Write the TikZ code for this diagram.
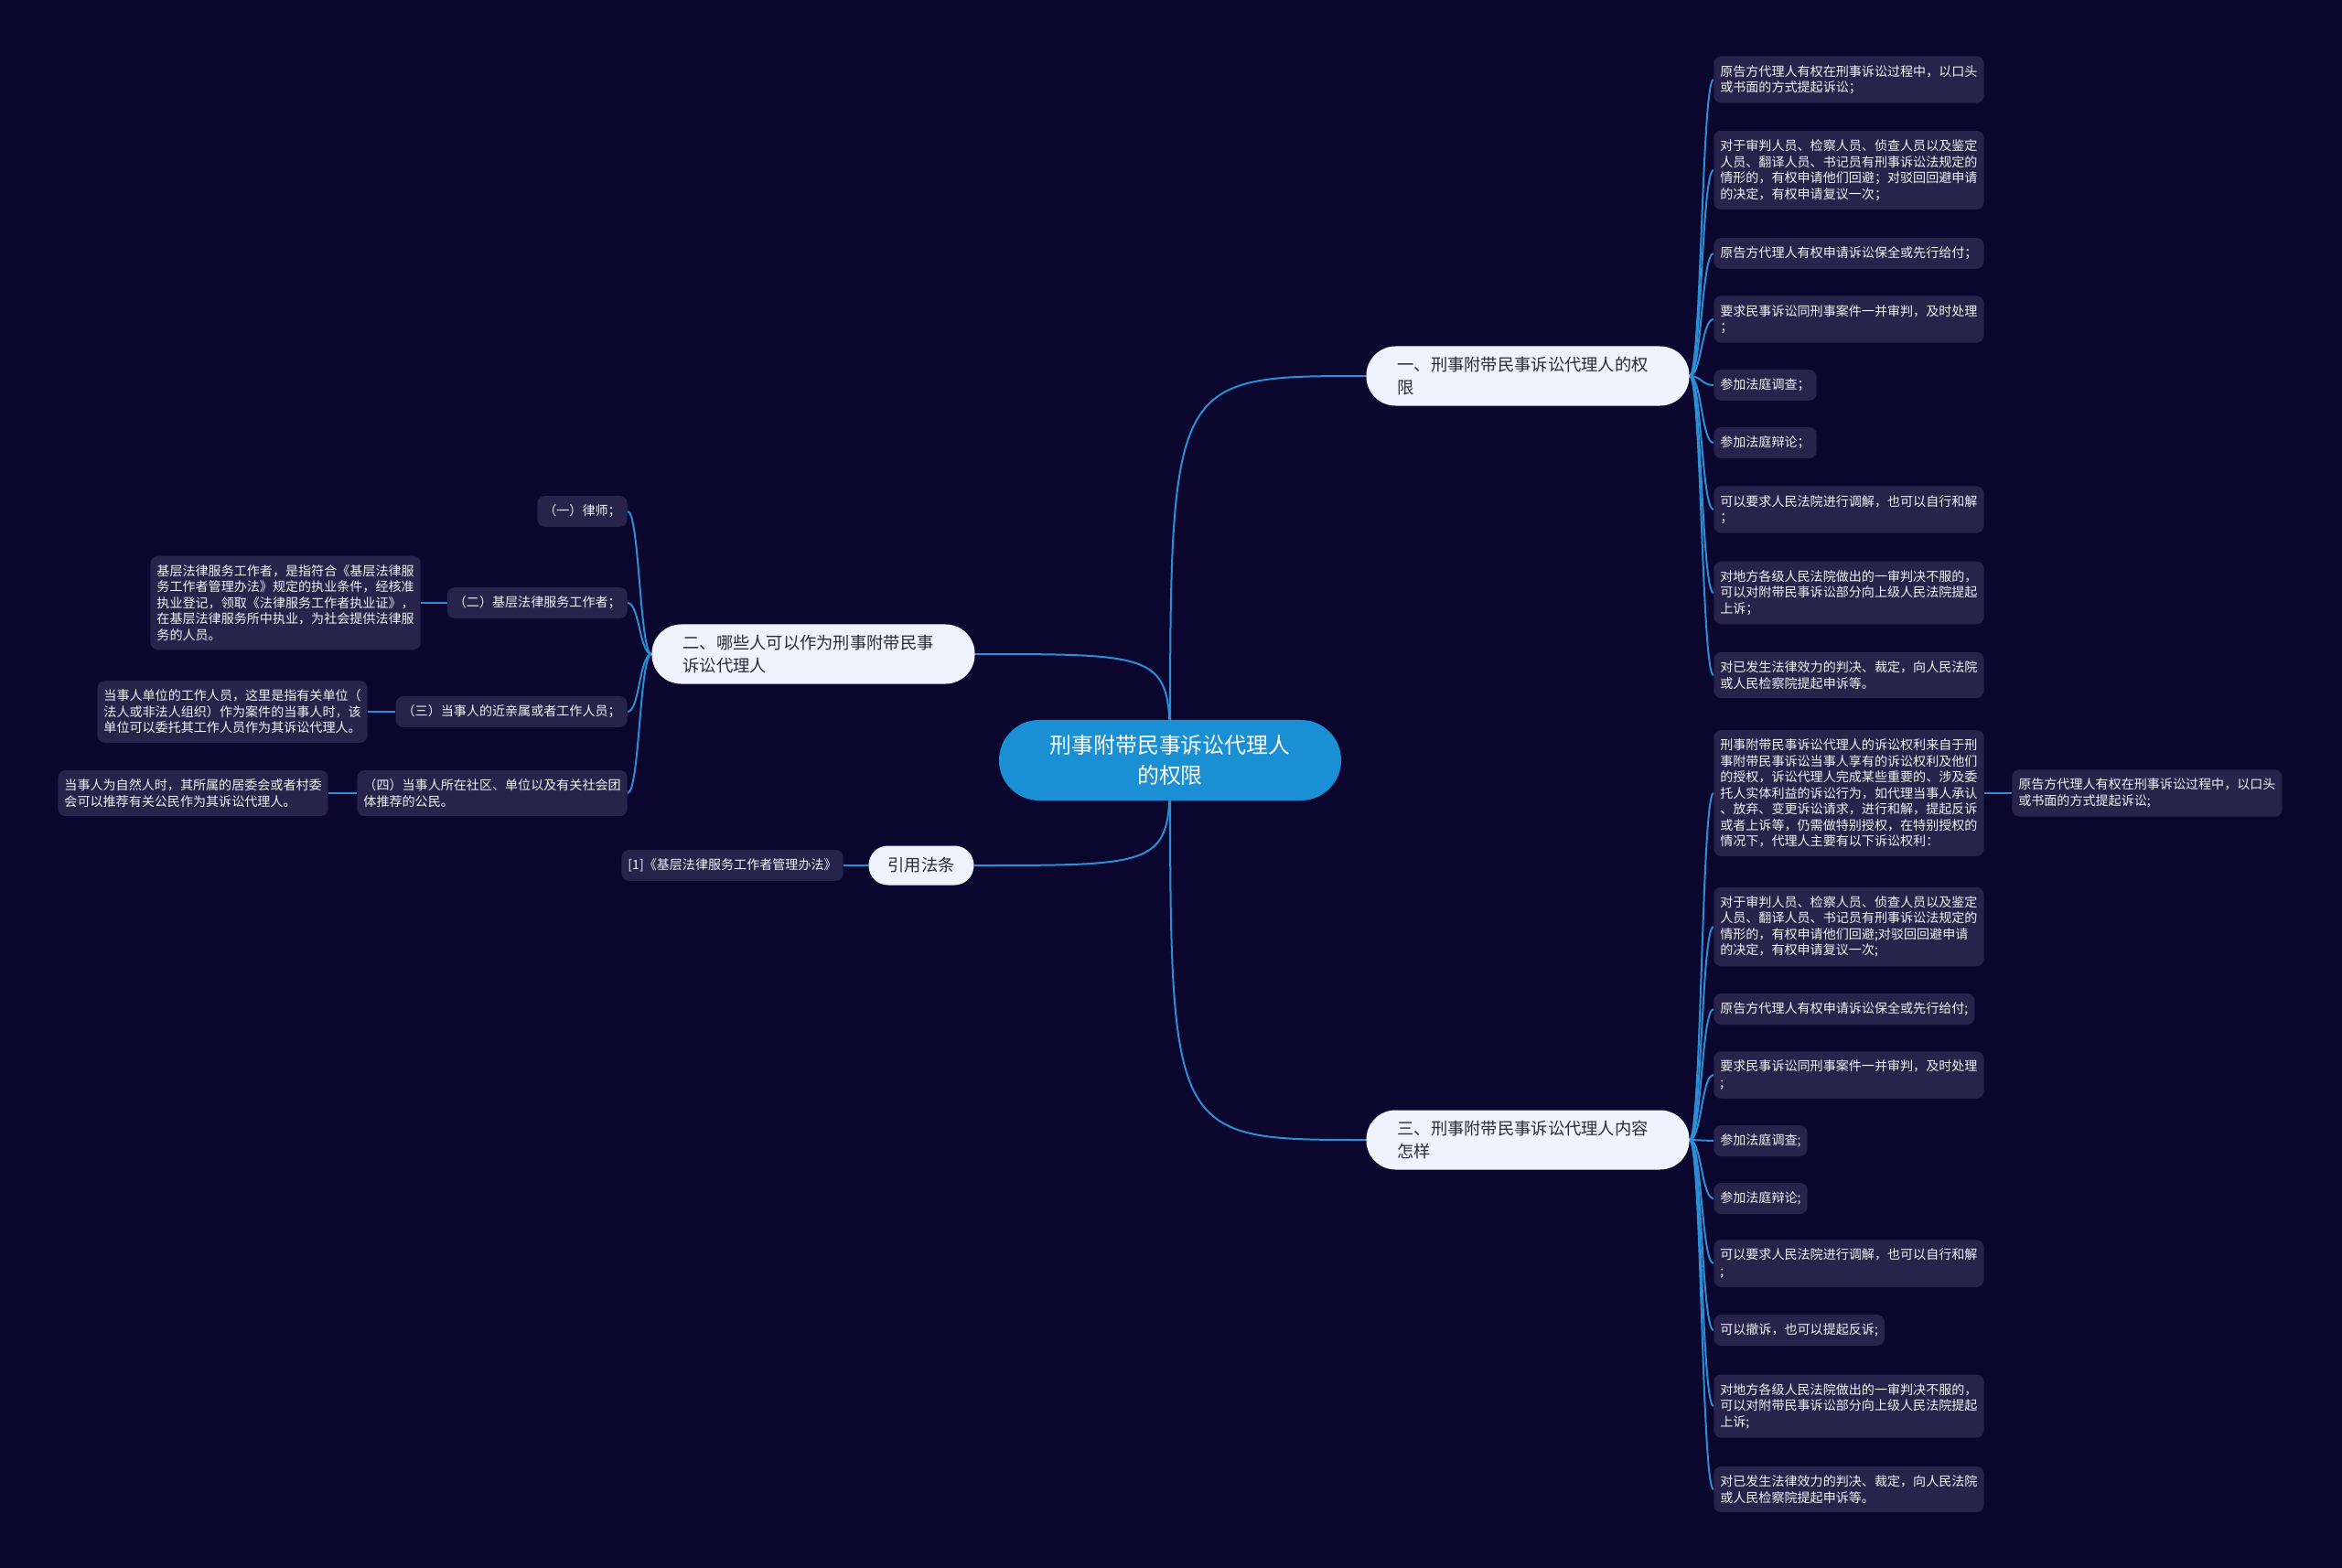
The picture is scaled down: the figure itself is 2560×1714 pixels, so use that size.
\documentclass[tikz,border=0pt]{standalone}
\usepackage{fontspec}
\setmainfont{Noto Sans CJK SC}
\usepackage{xcolor}
\definecolor{bgnavy}{HTML}{0B062E}
\definecolor{rootblue}{HTML}{1A8FD4}
\definecolor{topicfill}{HTML}{EEF3FD}
\definecolor{topictext}{HTML}{2B2B3A}
\definecolor{leaffill}{HTML}{27234A}
\definecolor{leaftext}{HTML}{F2F2F2}
\definecolor{linkblue}{HTML}{2C8FD6}
\usepackage{tikz}
\usetikzlibrary{calc, backgrounds}

\begin{document}
\begin{tikzpicture}[
    x=0.025cm, y=-0.025cm,
    root/.style={fill=rootblue, text=white, rounded corners=1.1cm, minimum width=9.35cm, minimum height=2.2cm, align=center, font=\fontsize{17}{24}\selectfont},
    pill/.style={fill=topicfill, text=topictext, font=\fontsize{13}{17.8}\selectfont},
    topic/.style={pill, rounded corners=0.8cm, minimum height=1.625cm, inner xsep=0.85cm, text width=7.125cm, align=left},
    cite/.style={pill, rounded corners=0.53cm, minimum width=2.875cm, minimum height=1.075cm},
    leaf/.style={fill=leaffill, text=leaftext, rounded corners=0.2cm, inner xsep=0.175cm, inner ysep=6.9pt, align=left, font=\fontsize{10}{12.45}\selectfont},
    wire/.style={draw=linkblue, line width=0.05cm},
    link/.style={to path={.. controls ($(\tikztostart)!0.5!(\tikztotarget |- \tikztostart)$) and ($(\tikztostart |- \tikztotarget)!0.5!(\tikztotarget)$) .. (\tikztotarget)}},
    trunk/.style={to path={.. controls (\tikztostart |- \tikztotarget) .. (\tikztotarget)}},
]
% centre and main topics
\node[root] (root) at (1279,831) {刑事附带民事诉讼代理人\\的权限};
\node[topic] (qx) at (1670,411) {一、刑事附带民事诉讼代理人的权\\限};
\node[topic] (nr) at (1670,1246) {三、刑事附带民事诉讼代理人内容\\怎样};
\node[topic] (dl) at (889,715) {二、哪些人可以作为刑事附带民事\\诉讼代理人};
\node[cite] (yy) at (1007,946) {引用法条};

% 一、权限
\node[leaf, anchor=west] (qx1) at (1873,87) {原告方代理人有权在刑事诉讼过程中，以口头\\或书面的方式提起诉讼；};
\node[leaf, anchor=west] (qx2) at (1873,186) {对于审判人员、检察人员、侦查人员以及鉴定\\人员、翻译人员、书记员有刑事诉讼法规定的\\情形的，有权申请他们回避；对驳回回避申请\\的决定，有权申请复议一次；};
\node[leaf, anchor=west] (qx3) at (1873,277) {原告方代理人有权申请诉讼保全或先行给付；};
\node[leaf, anchor=west] (qx4) at (1873,349) {要求民事诉讼同刑事案件一并审判，及时处理\\；};
\node[leaf, anchor=west] (qx5) at (1873,421) {参加法庭调查；};
\node[leaf, anchor=west] (qx6) at (1873,484) {参加法庭辩论；};
\node[leaf, anchor=west] (qx7) at (1873,557) {可以要求人民法院进行调解，也可以自行和解\\；};
\node[leaf, anchor=west] (qx8) at (1873,648) {对地方各级人民法院做出的一审判决不服的，\\可以对附带民事诉讼部分向上级人民法院提起\\上诉；};
\node[leaf, anchor=west] (qx9) at (1873,738) {对已发生法律效力的判决、裁定，向人民法院\\或人民检察院提起申诉等。};

% 三、内容
\node[leaf, anchor=west] (nr1) at (1873,867) {刑事附带民事诉讼代理人的诉讼权利来自于刑\\事附带民事诉讼当事人享有的诉讼权利及他们\\的授权，诉讼代理人完成某些重要的、涉及委\\托人实体利益的诉讼行为，如代理当事人承认\\、放弃、变更诉讼请求，进行和解，提起反诉\\或者上诉等，仍需做特别授权，在特别授权的\\情况下，代理人主要有以下诉讼权利：};
\node[leaf, anchor=west] (nr1a) at (2199,867) {原告方代理人有权在刑事诉讼过程中，以口头\\或书面的方式提起诉讼;};
\node[leaf, anchor=west] (nr2) at (1873,1013) {对于审判人员、检察人员、侦查人员以及鉴定\\人员、翻译人员、书记员有刑事诉讼法规定的\\情形的，有权申请他们回避;对驳回回避申请\\的决定，有权申请复议一次;};
\node[leaf, anchor=west] (nr3) at (1873,1103) {原告方代理人有权申请诉讼保全或先行给付;};
\node[leaf, anchor=west] (nr4) at (1873,1175) {要求民事诉讼同刑事案件一并审判，及时处理\\;};
\node[leaf, anchor=west] (nr5) at (1873,1247) {参加法庭调查;};
\node[leaf, anchor=west] (nr6) at (1873,1310) {参加法庭辩论;};
\node[leaf, anchor=west] (nr7) at (1873,1381) {可以要求人民法院进行调解，也可以自行和解\\;};
\node[leaf, anchor=west] (nr8) at (1873,1454) {可以撤诉，也可以提起反诉;};
\node[leaf, anchor=west] (nr9) at (1873,1537) {对地方各级人民法院做出的一审判决不服的，\\可以对附带民事诉讼部分向上级人民法院提起\\上诉;};
\node[leaf, anchor=west] (nr10) at (1873,1628) {对已发生法律效力的判决、裁定，向人民法院\\或人民检察院提起申诉等。};

% 二、代理人
\node[leaf, anchor=east] (dl1) at (686,559) {（一）律师；};
\node[leaf, anchor=east] (dl2) at (686,659) {（二）基层法律服务工作者；};
\node[leaf, anchor=east] (dl2a) at (460,659) {基层法律服务工作者，是指符合《基层法律服\\务工作者管理办法》规定的执业条件，经核准\\执业登记，领取《法律服务工作者执业证》，\\在基层法律服务所中执业，为社会提供法律服\\务的人员。};
\node[leaf, anchor=east] (dl3) at (686,778) {（三）当事人的近亲属或者工作人员；};
\node[leaf, anchor=east] (dl3a) at (402,778) {当事人单位的工作人员，这里是指有关单位（\\法人或非法人组织）作为案件的当事人时，该\\单位可以委托其工作人员作为其诉讼代理人。};
\node[leaf, anchor=east] (dl4) at (686,867) {（四）当事人所在社区、单位以及有关社会团\\体推荐的公民。};
\node[leaf, anchor=east] (dl4a) at (359,867) {当事人为自然人时，其所属的居委会或者村委\\会可以推荐有关公民作为其诉讼代理人。};

% 引用法条
\node[leaf, anchor=east] (yy1) at (922,946) {[1]《基层法律服务工作者管理办法》};

\begin{scope}[on background layer]
\fill[bgnavy] (0,0) rectangle (2560,1714);
\draw[wire] (root.center) to[trunk] (qx.west);
\draw[wire] (root.center) to[trunk] (nr.west);
\draw[wire] (root.center) to[trunk] (dl.east);
\draw[wire] (root.center) to[trunk] (yy.east);
\foreach \i in {1,...,9}
  \draw[wire] (qx.east) to[link] (qx\i.west);
\foreach \i in {1,...,10}
  \draw[wire] (nr.east) to[link] (nr\i.west);
\draw[wire] (nr1.east) to[link] (nr1a.west);
\foreach \i in {1,...,4}
  \draw[wire] (dl.west) to[link] (dl\i.east);
\draw[wire] (dl2.west) to[link] (dl2a.east);
\draw[wire] (dl3.west) to[link] (dl3a.east);
\draw[wire] (dl4.west) to[link] (dl4a.east);
\draw[wire] (yy.west) to[link] (yy1.east);
\end{scope}
\end{tikzpicture}
\end{document}
